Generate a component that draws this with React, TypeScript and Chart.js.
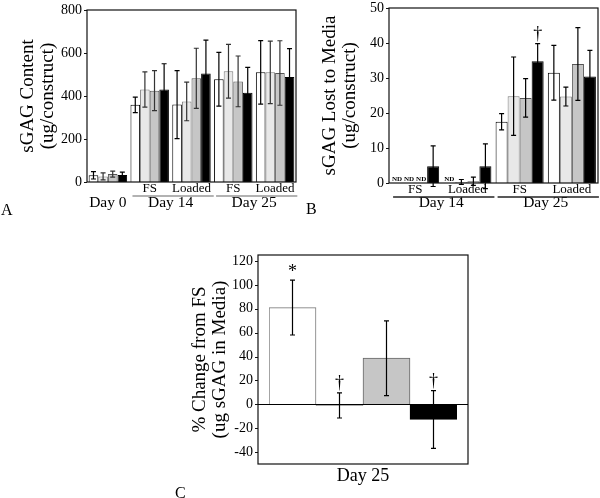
import { useEffect, useRef } from "react";
import { Chart, registerables } from "chart.js";

Chart.register(...registerables);

const FONT = "'Liberation Serif', 'Times New Roman', serif";

// ---------- Panel A: sGAG content ----------
const categoriesA = ["Day 0", "Day 14 FS", "Day 14 Loaded", "Day 25 FS", "Day 25 Loaded"];
const subLabelsA = ["", "FS", "Loaded", "FS", "Loaded"];
const dayLabelsA = ["Day 0", "Day 14", "Day 25"];
const daySpansA = [[0, 0], [1, 2], [3, 4]];
const ticksA = [0, 200, 400, 600, 800];
const aWhite = [31, 359, 360, 478, 510];
const aWhiteErr = [17, 36, 158, 125, 148];
const aLight = [26, 430, 375, 515, 510];
const aLightErr = [16, 82, 90, 125, 145];
const aGray = [37, 425, 482, 468, 507];
const aGrayErr = [14, 93, 140, 118, 150];
const aBlack = [32, 430, 505, 415, 488];
const aBlackErr = [14, 120, 155, 118, 132];

// ---------- Panel B: sGAG lost to media (null = ND) ----------
const categoriesB = ["Day 14 FS", "Day 14 Loaded", "Day 25 FS", "Day 25 Loaded"];
const subLabelsB = ["FS", "Loaded", "FS", "Loaded"];
const dayLabelsB = ["Day 14", "Day 25"];
const daySpansB = [[0, 1], [2, 3]];
const ticksB = [0, 10, 20, 30, 40, 50];
const bWhite = [null, null, 17.5, 31.5];
const bWhiteErr = [0, 0, 2.3, 7.8];
const bLight = [null, 0.3, 24.8, 24.7];
const bLightErr = [0, 0.7, 11.2, 2.7];
const bGray = [null, 0.5, 24.3, 34];
const bGrayErr = [0, 1.2, 5.5, 10.4];
const bBlack = [4.8, 4.8, 34.8, 30.4];
const bBlackErr = [5.8, 6.4, 5, 7.5];
const bBlackMarks = ["", "", "†", ""];

// ---------- Panel C: % change from FS ----------
const categoriesC = ["Group 1", "Group 2", "Group 3", "Group 4"];
const dayLabelsC = ["Day 25"];
const daySpansC = [[0, 3]];
const ticksC = [-40, -20, 0, 20, 40, 60, 80, 100, 120];
const cValues = [81, -1, 38.6, -12.7];
const cErr = [23, 10.5, 31.3, 24.2];
const cMarks = ["*", "†", "", "†"];

const WHITE = { bg: "#ffffff", border: "#000000" };
const LIGHT = { bg: "#e8e8e8", border: "#7a7a7a" };
const GRAY = { bg: "#c6c6c6", border: "#555555" };
const BLACK = { bg: "#000000", border: "#000000" };

const errorBarPlugin = {
  id: "errbars",
  afterDatasetsDraw(chart: any) {
    const ctx = chart.ctx;
    const ys = chart.scales.y;
    ctx.save();
    chart.data.datasets.forEach((ds: any, di: number) => {
      const meta = chart.getDatasetMeta(di);
      meta.data.forEach((bar: any, i: number) => {
        const v = ds.data[i];
        const x = bar.x;
        if (v === null || v === undefined) {
          ctx.fillStyle = "#000";
          ctx.font = `bold 7px ${FONT}`;
          ctx.textAlign = "center";
          ctx.textBaseline = "alphabetic";
          ctx.fillText("ND", x, ys.getPixelForValue(0) - 2);
          return;
        }
        const e = ds.errors ? ds.errors[i] : 0;
        const top = ys.getPixelForValue(v + e);
        const bot = ys.getPixelForValue(v - e);
        const cap = 2.5;
        ctx.strokeStyle = ds.errColor || "#000";
        ctx.lineWidth = 1.2;
        ctx.beginPath();
        ctx.moveTo(x, top);
        ctx.lineTo(x, bot);
        ctx.moveTo(x - cap, top);
        ctx.lineTo(x + cap, top);
        ctx.moveTo(x - cap, bot);
        ctx.lineTo(x + cap, bot);
        ctx.stroke();
        const mk = ds.marks ? ds.marks[i] : "";
        if (mk) {
          ctx.fillStyle = "#000";
          ctx.font = `18px ${FONT}`;
          ctx.textAlign = "center";
          ctx.textBaseline = "alphabetic";
          ctx.fillText(mk, x, top - (mk === "*" ? 3 : 5));
        }
      });
    });
    ctx.restore();
  },
};

const framePlugin = {
  id: "frame",
  afterDraw(chart: any, _args: any, opts: any) {
    const ctx = chart.ctx;
    const ca = chart.chartArea;
    const ext = opts.ext || 0;
    const L = ca.left - ext;
    const R = ca.right + ext;
    const ys = chart.scales.y;
    ctx.save();
    ctx.strokeStyle = "#111";
    ctx.lineWidth = 1.2;
    ctx.strokeRect(L, ca.top, R - L, ca.bottom - ca.top);
    // outward tick marks
    ctx.lineWidth = 1;
    ys.ticks.forEach((t: any) => {
      const y = Math.round(ys.getPixelForValue(t.value)) + 0.5;
      ctx.beginPath();
      ctx.moveTo(L - 3, y);
      ctx.lineTo(L, y);
      ctx.stroke();
    });
    if (opts.zeroLine) {
      const y0 = Math.round(ys.getPixelForValue(0)) + 0.5;
      ctx.strokeStyle = "#000";
      ctx.beginPath();
      ctx.moveTo(L, y0);
      ctx.lineTo(R, y0);
      ctx.stroke();
    }
    // group labels
    const xs = chart.scales.x;
    const n = chart.data.labels.length;
    const cw = (ca.right - ca.left) / n;
    const gw = cw * (opts.catPct || 1);
    ctx.fillStyle = "#000";
    ctx.textAlign = "center";
    ctx.textBaseline = "middle";
    if (opts.subLabels) {
      ctx.font = `${opts.subSize}px ${FONT}`;
      opts.subLabels.forEach((s: string, i: number) => {
        if (s) ctx.fillText(s, xs.getPixelForValue(i), ca.bottom + opts.subDy);
      });
    }
    ctx.font = `${opts.daySize}px ${FONT}`;
    opts.daySpans.forEach((sp: number[], k: number) => {
      const x0 = xs.getPixelForValue(sp[0]);
      const x1 = xs.getPixelForValue(sp[1]);
      ctx.fillStyle = "#000";
      ctx.fillText(opts.dayLabels[k], (x0 + x1) / 2, ca.bottom + opts.dayDy);
      if (opts.subLabels && sp[1] > sp[0]) {
        ctx.strokeStyle = opts.lineColor;
        ctx.lineWidth = 1.3;
        ctx.beginPath();
        ctx.moveTo(x0 - gw / 2 + 2, ca.bottom + opts.lineDy);
        ctx.lineTo(x1 + gw / 2 + 3, ca.bottom + opts.lineDy);
        ctx.stroke();
      }
    });
    ctx.restore();
  },
};

function yAxis(min: number, max: number, tickVals: number[], width: number, tickPad: number, title: string[], titlePad: number) {
  return {
    min,
    max,
    afterBuildTicks: (s: any) => {
      s.ticks = tickVals.map((v) => ({ value: v }));
    },
    afterFit: (s: any) => {
      s.width = width;
      s.paddingTop = 0;
      s.paddingBottom = 0;
    },
    grid: { display: false, drawTicks: false },
    border: { display: false },
    ticks: { font: { family: FONT, size: 14 }, color: "#000", padding: tickPad },
    title: {
      display: true,
      text: title,
      color: "#000",
      font: { family: FONT, size: 19, lineHeight: 1.05 },
      padding: { top: titlePad, bottom: 0 },
    },
  };
}

function ds(label: string, data: (number | null)[], errors: number[], c: { bg: string; border: string }, extra: any = {}) {
  return {
    label,
    data,
    errors,
    backgroundColor: c.bg,
    borderColor: c.border,
    borderWidth: 1,
    ...extra,
  };
}

function makeA(): any {
  const catPct = 0.92;
  return {
    type: "bar",
    data: {
      labels: categoriesA,
      datasets: [
        ds("White", aWhite, aWhiteErr, WHITE, { categoryPercentage: catPct, barPercentage: 1 }),
        ds("Light gray", aLight, aLightErr, LIGHT, { categoryPercentage: catPct, barPercentage: 1, errColor: "#333" }),
        ds("Gray", aGray, aGrayErr, GRAY, { categoryPercentage: catPct, barPercentage: 1, errColor: "#333" }),
        ds("Black", aBlack, aBlackErr, BLACK, { categoryPercentage: catPct, barPercentage: 1 }),
      ],
    },
    options: {
      animation: false,
      responsive: false,
      layout: { padding: { left: 0, right: 4, top: 10, bottom: 40 } },
      plugins: {
        legend: { display: false },
        tooltip: { enabled: false },
        frame: {
          catPct,
          subLabels: subLabelsA,
          subSize: 13,
          subDy: 7,
          lineDy: 14,
          lineColor: "#999",
          dayLabels: dayLabelsA,
          daySpans: daySpansA,
          daySize: 15.5,
          dayDy: 21,
        },
      },
      scales: {
        x: { display: false },
        y: yAxis(0, 800, ticksA, 87, 5, ["sGAG Content", "(ug/construct)"], 18),
      },
    },
    plugins: [errorBarPlugin, framePlugin],
  };
}

function makeB(): any {
  const catPct = 0.92;
  return {
    type: "bar",
    data: {
      labels: categoriesB,
      datasets: [
        ds("White", bWhite, bWhiteErr, WHITE, { categoryPercentage: catPct, barPercentage: 1 }),
        ds("Light gray", bLight, bLightErr, LIGHT, { categoryPercentage: catPct, barPercentage: 1 }),
        ds("Gray", bGray, bGrayErr, GRAY, { categoryPercentage: catPct, barPercentage: 1 }),
        ds("Black", bBlack, bBlackErr, BLACK, { categoryPercentage: catPct, barPercentage: 1, marks: bBlackMarks }),
      ],
    },
    options: {
      animation: false,
      responsive: false,
      layout: { padding: { left: 0, right: 2, top: 8, bottom: 39 } },
      plugins: {
        legend: { display: false },
        tooltip: { enabled: false },
        frame: {
          catPct,
          subLabels: subLabelsB,
          subSize: 13,
          subDy: 7,
          lineDy: 14,
          lineColor: "#222",
          dayLabels: dayLabelsB,
          daySpans: daySpansB,
          daySize: 15.5,
          dayDy: 20,
        },
      },
      scales: {
        x: { display: false },
        y: yAxis(0, 50, ticksB, 89, 5, ["sGAG Lost to Media", "(ug/construct)"], 20),
      },
    },
    plugins: [errorBarPlugin, framePlugin],
  };
}

function makeC(): any {
  return {
    type: "bar",
    data: {
      labels: categoriesC,
      datasets: [
        {
          label: "% change",
          data: cValues,
          errors: cErr,
          marks: cMarks,
          backgroundColor: [WHITE.bg, LIGHT.bg, GRAY.bg, BLACK.bg],
          borderColor: ["#777", "#555", "#666", "#000"],
          borderWidth: 1,
          categoryPercentage: 1,
          barPercentage: 1,
        },
      ],
    },
    options: {
      animation: false,
      responsive: false,
      layout: { padding: { left: 0, right: 23, top: 15, bottom: 34 } },
      plugins: {
        legend: { display: false },
        tooltip: { enabled: false },
        frame: {
          ext: 11,
          zeroLine: true,
          catPct: 1,
          dayLabels: dayLabelsC,
          daySpans: daySpansC,
          daySize: 18,
          dayDy: 12,
          lineColor: "#000",
        },
      },
      scales: {
        x: { display: false },
        y: yAxis(-50, 125, ticksC, 119, 16, ["% Change from FS", "(ug sGAG in Media)"], 40),
      },
    },
    plugins: [errorBarPlugin, framePlugin],
  };
}

function Panel({ left, top, width, height, make }: { left: number; top: number; width: number; height: number; make: () => any }) {
  const ref = useRef<HTMLCanvasElement | null>(null);
  useEffect(() => {
    if (!ref.current) return;
    const chart = new Chart(ref.current, make());
    return () => chart.destroy();
  }, [make]);
  return (
    <canvas
      ref={ref}
      width={width}
      height={height}
      style={{ position: "absolute", left, top, width, height }}
    />
  );
}

const letterStyle = (left: number, top: number): any => ({
  position: "absolute",
  left,
  top,
  fontFamily: FONT,
  fontSize: 16,
  lineHeight: "16px",
  color: "#000",
});

export default function App() {
  return (
    <div style={{ position: "absolute", left: 0, top: 0, width: 600, height: 498, background: "#fff", overflow: "hidden" }}>
      <Panel left={0} top={0} width={300} height={222} make={makeA} />
      <Panel left={300} top={0} width={300} height={222} make={makeB} />
      <Panel left={150} top={240} width={330} height={258} make={makeC} />
      <div style={letterStyle(1, 202)}>A</div>
      <div style={letterStyle(306, 201)}>B</div>
      <div style={letterStyle(175, 485)}>C</div>
    </div>
  );
}
